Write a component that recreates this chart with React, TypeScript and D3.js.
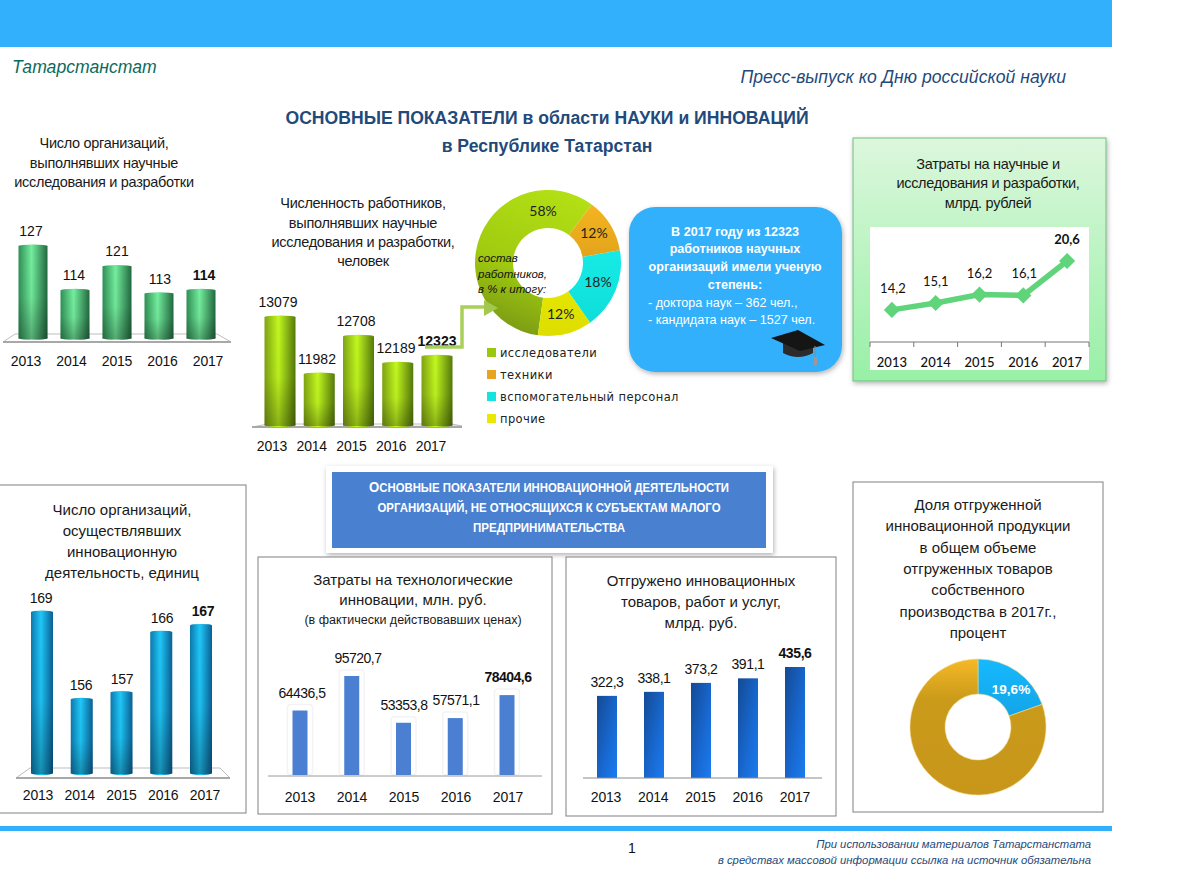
import React from "react";
import * as d3 from "d3";

// Показатели по годам
const years = ["2013", "2014", "2015", "2016", "2017"];
const orgsScience = [127, 114, 121, 113, 114];
const workers = [13079, 11982, 12708, 12189, 12323];
const scienceCosts = [14.2, 15.1, 16.2, 16.1, 20.6];
const orgsInnovation = [169, 156, 157, 166, 167];
const techCosts = [64436.5, 95720.7, 53353.8, 57571.1, 78404.6];
const shipped = [322.3, 338.1, 373.2, 391.1, 435.6];

const staffNames = ["исследователи", "техники", "вспомогательный персонал", "прочие"];
const staffShares = [58, 12, 18, 12];
const staffFills = ["url(#sliceGreen)", "url(#sliceOrange)", "url(#sliceCyan)", "url(#sliceYellow)"];
const staffKeys = ["#9cc70f", "#e8a41e", "#14e4e0", "#e8e800"];

const innovationShare = [19.6, 80.4];
const innovationFills = ["url(#sliceBlue)", "url(#sliceGold)"];

const ARIAL = "'Liberation Sans', Arial, sans-serif";
const CALIBRI = "Lato, 'Noto Sans', sans-serif";
const DARK_BLUE = "#1f4a7a";

const fmt1 = (v: number) => v.toFixed(1).replace(".", ",");

type BarsProps = {
  values: number[];
  domain: [number, number];
  yRange: [number, number];
  barX: [number, number];
  labelX: [number, number];
  valueX?: number[];
  barW: number;
  fill: string;
  axisY: number;
  valueGap: number;
  format?: (v: number) => string;
  caps?: boolean;
  halo?: boolean;
  spacing?: number;
};

// Столбики с подписями; последний год выделен жирным
const Bars: React.FC<BarsProps> = ({
  values,
  domain,
  yRange,
  barX,
  labelX,
  valueX,
  barW,
  fill,
  axisY,
  valueGap,
  format = String,
  caps = false,
  halo = false,
  spacing = 0,
}) => {
  const x = d3.scalePoint<string>().domain(years).range(barX);
  const xLabel = d3.scalePoint<string>().domain(years).range(labelX);
  const y = d3.scaleLinear().domain(domain).range(yRange);
  return (
    <g fontFamily={ARIAL} fill="#111">
      {values.map((v, i) => {
        const cx = x(years[i]) as number;
        const top = y(v);
        const h = yRange[0] - top;
        return (
          <g key={years[i]}>
            {halo && (
              <rect x={cx - barW / 2 - 5} y={top - 6} width={barW + 10} height={h + 6} fill="#fff" stroke="#f3f3f3" strokeWidth={1.5} rx={3} />
            )}
            <rect x={cx - barW / 2} y={top} width={barW} height={h} fill={fill} />
            {caps && <ellipse cx={cx} cy={top} rx={barW / 2} ry={1.5} fill={fill} />}
            {caps && <ellipse cx={cx} cy={yRange[0]} rx={barW / 2} ry={2} fill={fill} />}
            {caps && <rect x={cx - barW / 2} y={top} width={barW} height={h + 1} fill="url(#shade)" />}
            <text
              x={valueX ? valueX[i] : cx}
              y={top - valueGap}
              textAnchor="middle"
              fontSize={14}
              letterSpacing={spacing}
              fontWeight={i === values.length - 1 ? 700 : 400}
            >
              {format(v)}
            </text>
            <text x={xLabel(years[i])} y={axisY} textAnchor="middle" fontSize={14} letterSpacing={-0.2}>
              {years[i]}
            </text>
          </g>
        );
      })}
    </g>
  );
};

const Title: React.FC<{ x: number; ys: number[]; lines: string[]; size?: number; spacing?: number }> = ({
  x,
  ys,
  lines,
  size = 14.5,
  spacing = -0.3,
}) => (
  <g fontFamily={ARIAL} fontSize={size} fill="#1a1a1a" textAnchor="middle" letterSpacing={spacing}>
    {lines.map((t, i) => (
      <text key={t} x={x} y={ys[i]}>
        {t}
      </text>
    ))}
  </g>
);

const Cylinder = (id: string, dark: string, mid: string, edge: string) => (
  <linearGradient id={id} x1="0" y1="0" x2="1" y2="0">
    <stop offset="0%" stopColor={dark} />
    <stop offset="45%" stopColor={mid} />
    <stop offset="100%" stopColor={edge} />
  </linearGradient>
);

const Diag = (id: string, from: string, to: string) => (
  <linearGradient id={id} gradientUnits="userSpaceOnUse" x1="0" y1="-70" x2="0" y2="70">
    <stop offset="0%" stopColor={from} />
    <stop offset="100%" stopColor={to} />
  </linearGradient>
);

const Floor: React.FC<{ pts: string; front: string }> = ({ pts, front }) => (
  <g>
    <polygon points={pts} fill="#fff" stroke="#bdbdbd" strokeWidth={1} />
    <polyline points={front} fill="none" stroke="#a8a8a8" strokeWidth={2} />
  </g>
);

export default function App() {
  // Кольцо состава работников
  const staffPie = d3
    .pie<number>()
    .sort(null)
    .startAngle((188 * Math.PI) / 180)
    .endAngle((548 * Math.PI) / 180)(staffShares);
  const staffArc = d3.arc<d3.PieArcDatum<number>>().innerRadius(35).outerRadius(73);

  // Кольцо доли инновационной продукции
  const sharePie = d3.pie<number>().sort(null)(innovationShare);
  const shareArc = d3.arc<d3.PieArcDatum<number>>().innerRadius(33).outerRadius(68);

  // Линия затрат
  const lx = d3.scaleBand<string>().domain(years).range([870, 1089]);
  const ly = d3.scaleLinear().domain([10, 20.6]).range([342, 261]);
  const lineGen = d3
    .line<number>()
    .x((_, i) => (lx(years[i]) as number) + lx.bandwidth() / 2)
    .y((d) => ly(d));
  const diamond = d3.symbol().type(d3.symbolSquare).size(130)() as string;
  const lineLabelDx = [1, 0, 0, 1, 0];
  const lineTicks = [...years.map((y) => lx(y) as number), 1089];

  return (
    <svg width={1184} height={896} style={{ position: "absolute", left: 0, top: 0, background: "#fff" }}>
      <defs>
        {Cylinder("barGreen", "#2f8f55", "#74ee9e", "#21693f")}
        {Cylinder("barLime", "#7fa312", "#c2f81f", "#55790a")}
        {Cylinder("barCyan", "#0d78ad", "#1fc8f8", "#0a5f95")}
        <linearGradient id="shade" x1="0" y1="0" x2="0" y2="1">
          <stop offset="0%" stopColor="#000" stopOpacity={0} />
          <stop offset="55%" stopColor="#000" stopOpacity={0.04} />
          <stop offset="100%" stopColor="#000" stopOpacity={0.28} />
        </linearGradient>
        <linearGradient id="barBlue" x1="0" y1="0" x2="1" y2="1">
          <stop offset="0%" stopColor="#144a94" />
          <stop offset="60%" stopColor="#1869d2" />
          <stop offset="100%" stopColor="#1c7bf0" />
        </linearGradient>
        <linearGradient id="panelGreen" x1="0" y1="0" x2="0" y2="1">
          <stop offset="0%" stopColor="#dcf7dc" />
          <stop offset="100%" stopColor="#98f0a6" />
        </linearGradient>
        <linearGradient id="sliceGreen" gradientUnits="userSpaceOnUse" x1="30" y1="-70" x2="-30" y2="70">
          <stop offset="0%" stopColor="#b4e015" />
          <stop offset="60%" stopColor="#a0cb10" />
          <stop offset="100%" stopColor="#7c9c14" />
        </linearGradient>
        {Diag("sliceOrange", "#f8b820", "#c98c16")}
        {Diag("sliceCyan", "#1ff5f0", "#0cdcd8")}
        {Diag("sliceYellow", "#f6f600", "#dede00")}
        {Diag("sliceBlue", "#16baff", "#1088c8")}
        <linearGradient id="sliceGold" gradientUnits="userSpaceOnUse" x1="0" y1="-68" x2="0" y2="68">
          <stop offset="0%" stopColor="#f5b926" />
          <stop offset="30%" stopColor="#ca9a1a" />
          <stop offset="100%" stopColor="#c8971a" />
        </linearGradient>
        <filter id="soft" x="-10%" y="-10%" width="120%" height="125%">
          <feDropShadow dx="1" dy="2" stdDeviation="2.5" floodColor="#000" floodOpacity="0.3" />
        </filter>
      </defs>

      {/* Шапка и подвал */}
      <rect x={0} y={0} width={1112} height={47} fill="#33b0fb" />
      <rect x={0} y={826} width={1112} height={5} fill="#33b0fb" />
      <g fontFamily={ARIAL} fontStyle="italic">
        <text x={12} y={73} fontSize={17.6} fill="#0b6b5e">Татарстанстат</text>
        <text x={1066} y={83} fontSize={17.6} textAnchor="end" fill={DARK_BLUE}>Пресс-выпуск ко Дню российской науки</text>
        <text x={1091} y={848} fontSize={11.3} textAnchor="end" fill={DARK_BLUE}>При использовании материалов Татарстанстата</text>
        <text x={1091} y={864} fontSize={11.3} textAnchor="end" fill={DARK_BLUE}>в средствах массовой информации ссылка на источник обязательна</text>
      </g>
      <text x={632} y={853} fontFamily={ARIAL} fontSize={14} textAnchor="middle" fill="#111">1</text>
      <g fontFamily={ARIAL} fontWeight={700} fontSize={17.6} fill={DARK_BLUE} textAnchor="middle">
        <text x={547} y={124}>ОСНОВНЫЕ ПОКАЗАТЕЛИ в области НАУКИ и ИННОВАЦИЙ</text>
        <text x={547} y={152}>в Республике Татарстан</text>
      </g>

      {/* Число организаций, НИР */}
      <Title x={104} ys={[148, 168, 187]} lines={["Число организаций,", "выполнявших научные", "исследования и разработки"]} />
      <Floor pts="3,342 15,334 217,334 231,342" front="3,342 231,342" />
      <Bars values={orgsScience} domain={[100, 127]} yRange={[338, 246]} barX={[33, 201]} labelX={[26, 208]} valueX={[31, 74, 117, 160, 204]} barW={29} fill="url(#barGreen)" axisY={366} valueGap={10} caps />

      {/* Численность работников */}
      <Title x={363} ys={[208, 228, 247, 266]} lines={["Численность работников,", "выполнявших научные", "исследования и разработки,", "человек"]} />
      <Floor pts="252,427 268,424 452,424 462,426" front="252,427 462,427" />
      <Bars values={workers} domain={[11000, 13079]} yRange={[425, 317]} barX={[280, 437]} labelX={[272, 431]} valueX={[278, 317, 356, 396, 437]} barW={31} fill="url(#barLime)" axisY={451} valueGap={10} caps />

      {/* Состав работников */}
      <g transform="translate(548,263)">
        {staffPie.map((d, i) => (
          <path key={staffNames[i]} d={staffArc(d) as string} fill={staffFills[i]} />
        ))}
        <g fontFamily={CALIBRI} fontSize={14} fill="#222" textAnchor="middle" dominantBaseline="middle">
          {staffPie.map((d, i) => {
            const [px, py] = i === 0 ? d3.pointRadial(-0.098, 51) : staffArc.centroid(d);
            return (
              <text key={staffNames[i]} x={px} y={py}>
                {staffShares[i]}%
              </text>
            );
          })}
        </g>
      </g>

      {/* Стрелка к кольцу */}
      <path d="M425,347 H462 V307 H488" fill="none" stroke="#a9d058" strokeWidth={3.5} />
      <path d="M484,300 L498,308 L484,316 Z" fill="#a3c84e" />

      <g fontFamily={ARIAL} fontStyle="italic" fontSize={11.5} fill="#111">
        <text x={478} y={262}>состав</text>
        <text x={478} y={278}>работников,</text>
        <text x={478} y={293}>в % к итогу:</text>
      </g>
      <g fontFamily="'DejaVu Sans', sans-serif" fontSize={11.5} fill="#222" letterSpacing={0.4}>
        {staffNames.map((name, i) => (
          <g key={name}>
            <rect x={487} y={348 + i * 22} width={9} height={9} fill={staffKeys[i]} />
            <text x={500} y={357 + i * 22}>{name}</text>
          </g>
        ))}
      </g>

      {/* Выноска про учёную степень */}
      <rect x={629} y={207} width={213} height={165} rx={26} fill="#33b0fb" filter="url(#soft)" />
      <g fontFamily={ARIAL} fontSize={12.6} fill="#fff">
        <g fontWeight={700} textAnchor="middle">
          <text x={735} y={236}>В 2017 году из 12323</text>
          <text x={735} y={253}>работников научных</text>
          <text x={735} y={271}>организаций имели ученую</text>
          <text x={735} y={289}>степень:</text>
        </g>
        <text x={648} y={307}>- доктора наук – 362 чел.,</text>
        <text x={648} y={324}>- кандидата наук – 1527 чел.</text>
      </g>
      <g>
        <path d="M783,340 V353 Q798,361 813,353 V340 Z" fill="#2c2a2a" />
        <polygon points="771,338 798,330 825,345 800,351" fill="#161515" />
        <path d="M815,346 V358" stroke="#8a8a8a" strokeWidth={1} />
        <rect x={814} y={357} width={3} height={8} fill="#9a9a9a" />
      </g>

      {/* Затраты на исследования */}
      <rect x={853} y={138} width={253} height={243} fill="url(#panelGreen)" stroke="#6fbf7f" strokeWidth={1} filter="url(#soft)" />
      <Title x={988} ys={[169, 188, 208]} lines={["Затраты на научные и", "исследования и разработки,", "млрд. рублей"]} />
      <rect x={870} y={227} width={219} height={143} fill="#fff" />
      <path d={lineGen(scienceCosts) as string} fill="none" stroke="#5fd47a" strokeWidth={5.5} />
      {scienceCosts.map((v, i) => {
        const cx = (lx(years[i]) as number) + lx.bandwidth() / 2;
        return (
          <g key={years[i]}>
            <path d={diamond} transform={`translate(${cx},${ly(v)}) rotate(45)`} fill="#5fd47a" />
            <text
              x={cx + lineLabelDx[i]}
              y={ly(v) - 17}
              textAnchor="middle"
              fontFamily={CALIBRI}
              fontSize={13}
              fontWeight={i === 4 ? 700 : 400}
              fill="#111"
            >
              {fmt1(v)}
            </text>
            <text x={cx} y={367} textAnchor="middle" fontFamily={CALIBRI} fontSize={13} fontWeight={500} fill="#111">
              {years[i]}
            </text>
          </g>
        );
      })}
      <path d="M870,342 H1089" stroke="#777" strokeWidth={1} />
      {lineTicks.map((t) => (
        <path key={t} d={`M${t},342 V347`} stroke="#777" strokeWidth={1} />
      ))}

      {/* Заголовок блока инноваций */}
      <rect x={326} y={466} width={447} height={87} fill="#fff" filter="url(#soft)" />
      <rect x={332} y={472} width={434} height={76} fill="#4a80d0" />
      <g fontFamily={ARIAL} fontWeight={700} fontSize={12.5} fill="#fff" textAnchor="middle">
        <text x={549} y={492} textLength={360} lengthAdjust="spacingAndGlyphs"><tspan fontSize={14.5}>О</tspan>СНОВНЫЕ ПОКАЗАТЕЛИ ИННОВАЦИОННОЙ ДЕЯТЕЛЬНОСТИ</text>
        <text x={549} y={512} textLength={343} lengthAdjust="spacingAndGlyphs">ОРГАНИЗАЦИЙ, НЕ ОТНОСЯЩИХСЯ К СУБЪЕКТАМ МАЛОГО</text>
        <text x={549} y={532} textLength={152} lengthAdjust="spacingAndGlyphs">ПРЕДПРИНИМАТЕЛЬСТВА</text>
      </g>

      {/* Рамки нижних панелей */}
      <g fill="#fff" stroke="#808080" strokeWidth={1}>
        <rect x={-2} y={485} width={248} height={328} />
        <rect x={258} y={557} width={294} height={257} />
        <rect x={566} y={557} width={270} height={259} />
        <rect x={853} y={482} width={250} height={330} />
      </g>

      {/* Число инновационных организаций */}
      <Title x={122} ys={[515, 536, 557, 578]} size={15} spacing={0} lines={["Число организаций,", "осуществлявших", "инновационную", "деятельность, единиц"]} />
      <Floor pts="16,778 30,768 220,768 230,778" front="16,778 230,778" />
      <Bars values={orgsInnovation} domain={[145, 169]} yRange={[773, 612]} barX={[42, 201]} labelX={[38, 205]} valueX={[41, 81, 122, 162, 203]} barW={22} fill="url(#barCyan)" axisY={800} valueGap={9} caps spacing={-0.3} />

      {/* Затраты на технологические инновации */}
      <Title x={413} ys={[585, 605]} size={15} spacing={0} lines={["Затраты на технологические", "инновации, млн. руб."]} />
      <Title x={413} ys={[624]} size={12.5} spacing={0} lines={["(в фактически действовавших ценах)"]} />
      <Bars values={techCosts} domain={[6000, 95720.7]} yRange={[775, 676]} barX={[300, 507]} labelX={[300, 508]} valueX={[302, 358, 404, 456, 508]} barW={15} fill="#4a7fd1" axisY={802} valueGap={13} format={fmt1} halo spacing={-0.5} />
      <path d="M268,776 H542" stroke="#9a9a9a" strokeWidth={1} />

      {/* Отгружено инновационных товаров */}
      <Title x={701} ys={[586, 607, 628]} size={15} spacing={0} lines={["Отгружено инновационных", "товаров, работ и услуг,", "млрд. руб."]} />
      <Bars values={shipped} domain={[0, 435.6]} yRange={[778, 667]} barX={[607, 795]} labelX={[606, 795]} barW={20} fill="url(#barBlue)" axisY={802} valueGap={9} format={fmt1} spacing={-0.4} />
      <path d="M583,778 H822" stroke="#8a8a8a" strokeWidth={1} />

      {/* Доля инновационной продукции */}
      <Title x={978} ys={[510, 531, 553, 574, 595, 617, 638]} size={15} spacing={0} lines={["Доля отгруженной", "инновационной продукции", "в общем объеме", "отгруженных товаров", "собственного", "производства в 2017г.,", "процент"]} />
      <g transform="translate(978,727)">
        {sharePie.map((d, i) => (
          <path key={innovationFills[i]} d={shareArc(d) as string} fill={innovationFills[i]} stroke="#f0d890" strokeWidth={0.6} />
        ))}
        <text x={33} y={-33} textAnchor="middle" fontFamily={ARIAL} fontWeight={700} fontSize={13.5} fill="#fff">
          {fmt1(innovationShare[0])}%
        </text>
      </g>
    </svg>
  );
}
